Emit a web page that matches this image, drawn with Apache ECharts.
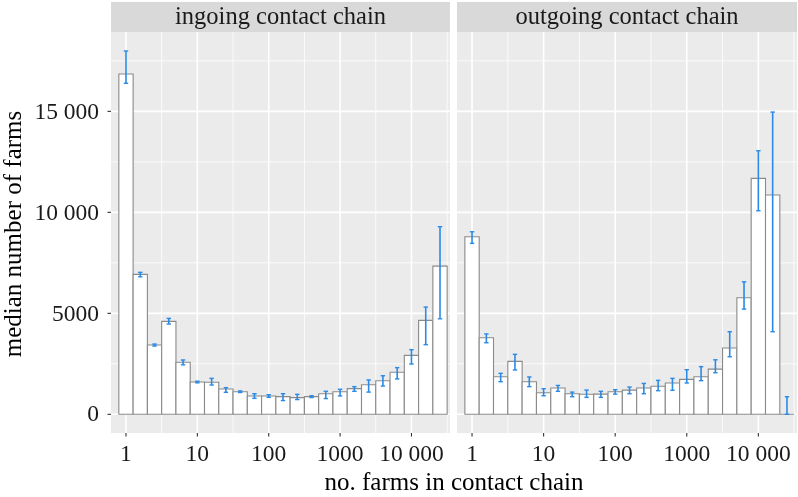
<!DOCTYPE html>
<html>
<head>
<meta charset="utf-8">
<script src="https://cdn.jsdelivr.net/npm/echarts@6/dist/echarts.min.js"></script>
<style>
  html, body { margin: 0; padding: 0; background: #ffffff; }
  #chart { width: 798px; height: 497px; }
</style>
</head>
<body>
<div id="chart"></div>
<script>
// ---------- data ----------
const panelTitles = ['ingoing contact chain', 'outgoing contact chain'];
// bin centres (no. farms in contact chain), bins are 0.2 decades wide
const binCenters = [1, 1.585, 2.512, 3.981, 6.310, 10, 15.85, 25.12, 39.81, 63.10,
  100, 158.5, 251.2, 398.1, 631.0, 1000, 1585, 2512, 3981, 6310, 10000, 15849, 25119];

const ingoingMedian = [16850, 6930, 3430, 4600, 2575, 1600, 1585, 1250, 1120, 905,
  905, 875, 825, 875, 1020, 1120, 1270, 1465, 1665, 2080, 2920, 4650, 7340];
const ingoingLow = [16390, 6810, 3380, 4470, 2450, 1560, 1450, 1090, 1080, 790,
  840, 680, 730, 830, 780, 910, 1140, 1100, 1400, 1750, 2490, 3450, 4730];
const ingoingHigh = [17990, 7030, 3480, 4750, 2690, 1640, 1780, 1320, 1160, 1020,
  970, 1020, 990, 920, 1140, 1240, 1370, 1700, 1910, 2310, 3200, 5310, 9290];

const outgoingMedian = [8790, 3790, 1860, 2620, 1610, 1070, 1300, 1020, 990, 1000,
  1120, 1200, 1300, 1390, 1550, 1730, 1860, 2240, 3280, 5770, 11680, 10860, 0];
const outgoingLow = [8465, 3545, 1615, 2195, 1370, 920, 1140, 870, 840, 840,
  1000, 1020, 1020, 1170, 1190, 1550, 1665, 2060, 2850, 5210, 10080, 4090, 0];
const outgoingHigh = [9040, 3980, 2030, 2970, 1850, 1270, 1430, 1100, 1200, 1140,
  1220, 1350, 1530, 1680, 1780, 2210, 2360, 2700, 4090, 6560, 13050, 14965, 870];

// axis ticks
const xTickValues = [1, 10, 100, 1000, 10000];
const xTickLabels = ['1', '10', '100', '1000', '10 000'];
const xMinorValues = [3.1623, 31.623, 316.23, 3162.3, 31623];
const yTickValues = [0, 5000, 10000, 15000];
const yTickLabels = ['0', '5000', '10 000', '15 000'];
const yMinorValues = [2500, 7500, 12500, 17500];

const xTitle = 'no. farms in contact chain';
const yTitle = 'median number of farms';

// ---------- styling ----------
const FONT = '"Liberation Serif", "DejaVu Serif", serif';
const BIN_HALF = 0.1;              // half bin width in log10 units
const X_MIN = -0.21, X_MAX = 4.54; // log10 range of panels
const Y_MIN = -925, Y_MAX = 18930;
const ERR_COLOR = '#2b8ae6';
const BAR_STROKE = '#8a8a8a';

const chart = echarts.init(document.getElementById('chart'), null, { renderer: 'canvas' });

function gridRenderer(showY) {
  return function (params, api) {
    const cs = params.coordSys;
    const left = cs.x, right = cs.x + cs.width, top = cs.y, bottom = cs.y + cs.height;
    const ch = [];
    const ln = (x1, y1, x2, y2, w, col) => ({
      type: 'line', shape: { x1, y1, x2, y2 },
      style: { stroke: col, lineWidth: w }, silent: true
    });
    yMinorValues.forEach(v => { const y = api.coord([0, v])[1]; ch.push(ln(left, y, right, y, 0.8, '#ffffff')); });
    xMinorValues.forEach(v => { const x = api.coord([Math.log10(v), 0])[0]; if (x <= right) ch.push(ln(x, top, x, bottom, 0.8, '#ffffff')); });
    yTickValues.forEach(v => { const y = api.coord([0, v])[1]; ch.push(ln(left, y, right, y, 1.6, '#ffffff')); });
    xTickValues.forEach(v => { const x = api.coord([Math.log10(v), 0])[0]; ch.push(ln(x, top, x, bottom, 1.6, '#ffffff')); });
    // x ticks + labels
    xTickValues.forEach((v, i) => {
      const x = api.coord([Math.log10(v), 0])[0];
      ch.push(ln(x, bottom, x, bottom + 3.5, 1.1, '#333333'));
      ch.push({
        type: 'text', silent: true,
        style: { text: xTickLabels[i], x: x, y: bottom + 22, fill: '#1a1a1a',
          fontSize: 23.5, fontFamily: FONT, align: 'center', verticalAlign: 'middle' }
      });
    });
    if (showY) {
      yTickValues.forEach((v, i) => {
        const y = api.coord([0, v])[1];
        ch.push(ln(left - 3.5, y, left, y, 1.1, '#333333'));
        ch.push({
          type: 'text', silent: true,
          style: { text: yTickLabels[i], x: left - 12, y: y + 1, fill: '#1a1a1a',
            fontSize: 23.5, fontFamily: FONT, align: 'right', verticalAlign: 'middle' }
        });
      });
    }
    return { type: 'group', children: ch };
  };
}

function barRenderer(params, api) {
  const c = api.value(0), v = api.value(1), lo = api.value(2), hi = api.value(3);
  const p0 = api.coord([c - BIN_HALF, 0]);
  const p1 = api.coord([c + BIN_HALF, v]);
  const pl = api.coord([c, lo]);
  const ph = api.coord([c, hi]);
  const cap = 2.2;
  return {
    type: 'group',
    children: [
      { type: 'rect', shape: { x: p0[0], y: p1[1], width: p1[0] - p0[0], height: p0[1] - p1[1] },
        style: { fill: '#ffffff', stroke: BAR_STROKE, lineWidth: 1.1 } },
      { type: 'line', shape: { x1: pl[0], y1: pl[1], x2: ph[0], y2: ph[1] },
        style: { stroke: ERR_COLOR, lineWidth: 1.6 } },
      { type: 'line', shape: { x1: pl[0] - cap, y1: pl[1], x2: pl[0] + cap, y2: pl[1] },
        style: { stroke: ERR_COLOR, lineWidth: 1.4 } },
      { type: 'line', shape: { x1: ph[0] - cap, y1: ph[1], x2: ph[0] + cap, y2: ph[1] },
        style: { stroke: ERR_COLOR, lineWidth: 1.4 } }
    ]
  };
}

function makeData(med, lo, hi) {
  return binCenters.map((c, i) => [Math.log10(c), med[i], lo[i], hi[i]]);
}

const grids = [
  { left: 111, top: 32, width: 339, height: 401 },
  { left: 457, top: 32, width: 340, height: 401 }
];

const option = {
  animation: false,
  backgroundColor: '#ffffff',
  grid: grids.map(g => Object.assign({ show: true, backgroundColor: '#ebebeb', borderWidth: 0 }, g)),
  xAxis: [0, 1].map(i => ({ type: 'value', gridIndex: i, min: X_MIN, max: X_MAX, show: false })),
  yAxis: [0, 1].map(i => ({ type: 'value', gridIndex: i, min: Y_MIN, max: Y_MAX, show: false })),
  series: [
    { type: 'custom', name: 'grid0', xAxisIndex: 0, yAxisIndex: 0, clip: false, z: 1, silent: true,
      data: [[0, 0]], renderItem: gridRenderer(true) },
    { type: 'custom', name: 'grid1', xAxisIndex: 1, yAxisIndex: 1, clip: false, z: 1, silent: true,
      data: [[0, 0]], renderItem: gridRenderer(false) },
    { type: 'custom', name: panelTitles[0], xAxisIndex: 0, yAxisIndex: 0, z: 2,
      encode: { x: 0, y: 1 },
      data: makeData(ingoingMedian, ingoingLow, ingoingHigh), renderItem: barRenderer },
    { type: 'custom', name: panelTitles[1], xAxisIndex: 1, yAxisIndex: 1, z: 2,
      encode: { x: 0, y: 1 },
      data: makeData(outgoingMedian, outgoingLow, outgoingHigh), renderItem: barRenderer }
  ],
  graphic: [
    { type: 'rect', shape: { x: 111, y: 2, width: 339, height: 30 }, style: { fill: '#d9d9d9' }, silent: true },
    { type: 'rect', shape: { x: 457, y: 2, width: 340, height: 30 }, style: { fill: '#d9d9d9' }, silent: true },
    { type: 'text', x: 280.5, y: 17.5, silent: true,
      style: { text: panelTitles[0], fill: '#1a1a1a', fontSize: 24.5, fontFamily: FONT, align: 'center', verticalAlign: 'middle' } },
    { type: 'text', x: 627, y: 17.5, silent: true,
      style: { text: panelTitles[1], fill: '#1a1a1a', fontSize: 24.5, fontFamily: FONT, align: 'center', verticalAlign: 'middle' } },
    { type: 'text', x: 454, y: 483.5, silent: true,
      style: { text: xTitle, fill: '#000000', fontSize: 25, fontFamily: FONT, align: 'center', verticalAlign: 'middle' } },
    { type: 'text', x: 14, y: 234, rotation: Math.PI / 2, silent: true,
      style: { text: yTitle, fill: '#000000', fontSize: 25, fontFamily: FONT, align: 'center', verticalAlign: 'middle' } }
  ]
};

chart.setOption(option);
</script>
</body>
</html>
